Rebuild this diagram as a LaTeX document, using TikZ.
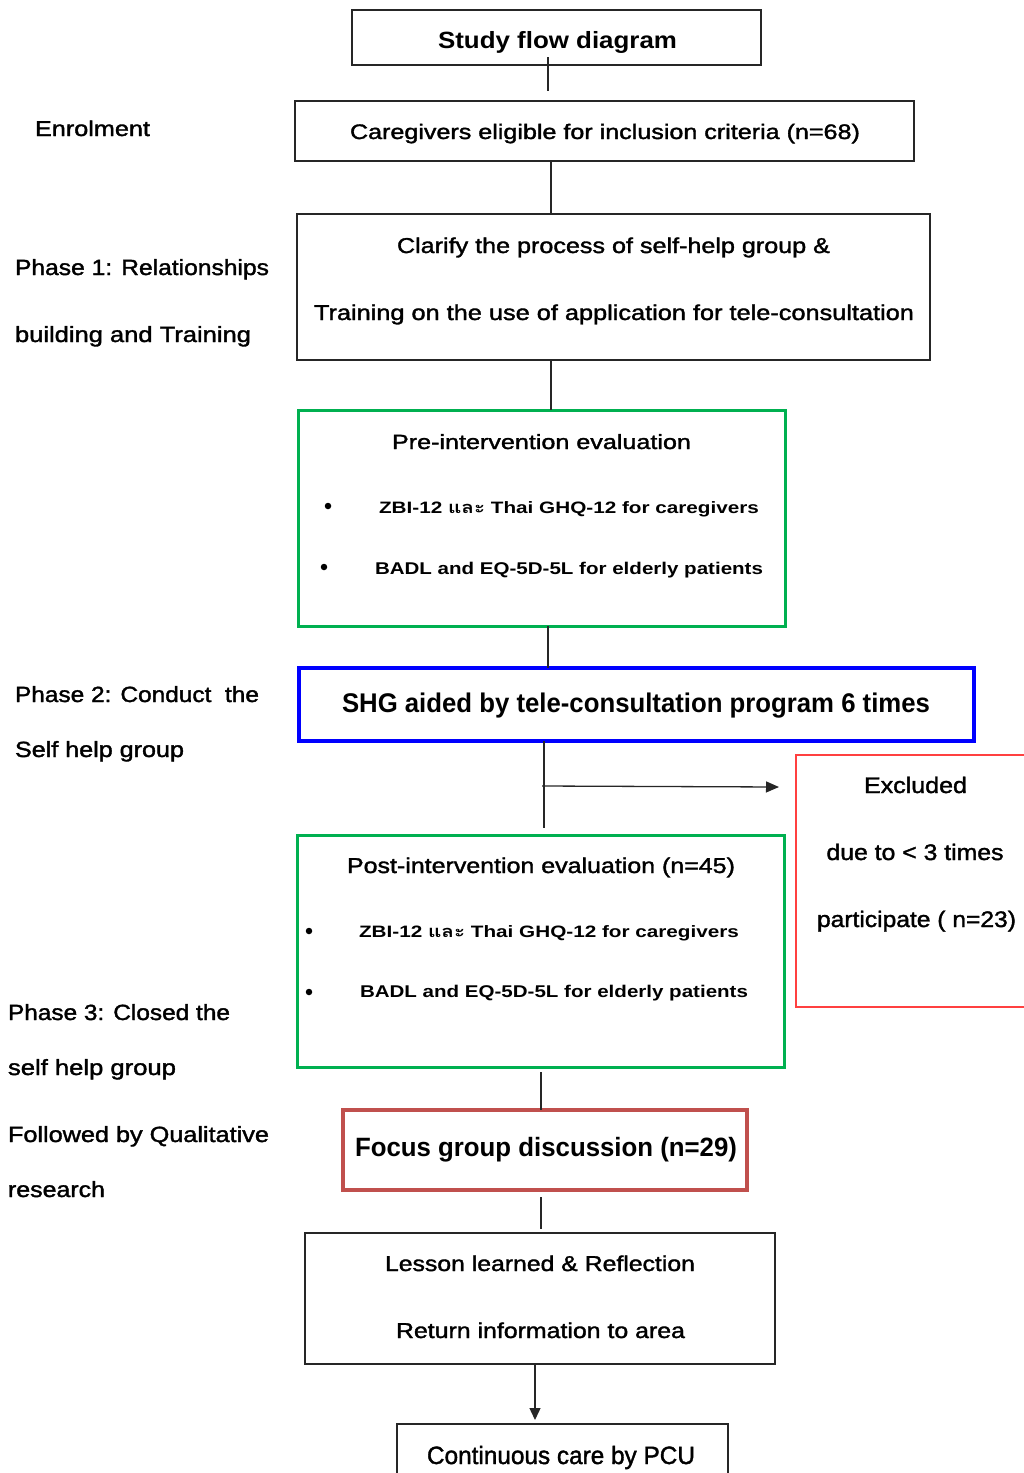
\documentclass[tikz,border=0pt]{standalone}
\usepackage{fontspec}
\setmainfont{Liberation Sans}
\newfontfamily\medfont{Liberation Sans}[FakeBold=1.5]
\newfontfamily\thaifont[Script=Thai]{Loma}
\usetikzlibrary{arrows.meta}
\newsavebox\fitbox
\newcommand\fitto[2]{\sbox\fitbox{#2}\pgfmathsetmacro\fitfac{#1/\the\wd\fitbox}\scalebox{\fitfac}[1]{\usebox\fitbox}}
\newcommand\fs[1]{\fontsize{#1}{#1}\selectfont}
\newcommand\fm[1]{\medfont\fontsize{#1}{#1}\selectfont}
\definecolor{gbox}{HTML}{00B050}
\definecolor{bbox}{HTML}{0000FF}
\definecolor{rbox}{HTML}{FF4040}
\definecolor{fbox}{HTML}{C0504D}
\tikzset{
  box/.style={draw=black!85, line width=1.3pt, inner sep=0pt, outer sep=0pt},
  lbl/.style={anchor=base, inner sep=0pt, outer sep=0pt},
  conn/.style={draw=black!85, line width=1.3pt},
  dot/.style={circle, fill=black, inner sep=0pt, minimum size=6.5pt}
}
\begin{document}
\begin{tikzpicture}[x=1pt, y=-1pt]
\useasboundingbox (0,0) rectangle (1024,1473);
\clip (0,0) rectangle (1024,1473);
% boxes
\node[box, minimum width=409pt, minimum height=55pt] (b0) at (556.5,37.5) {};
\node[box, minimum width=619pt, minimum height=60pt] (b1) at (604.5,131) {};
\node[box, minimum width=633pt, minimum height=146pt] (b2) at (613.5,287) {};
\node[box, draw=gbox, line width=3pt, minimum width=487pt, minimum height=216pt] (b3) at (541.5,518) {};
\node[box, draw=bbox, line width=4pt, minimum width=675pt, minimum height=73pt] (b4) at (636.5,704.5) {};
\node[box, draw=rbox, line width=1.5pt, minimum width=238pt, minimum height=252pt] (b5) at (915,881) {};
\node[box, draw=gbox, line width=3pt, minimum width=487pt, minimum height=232pt] (b6) at (540.5,951) {};
\node[box, draw=fbox, line width=4pt, minimum width=404pt, minimum height=80pt] (b7) at (545,1150) {};
\node[box, minimum width=470pt, minimum height=131pt] (b8) at (540,1298.5) {};
\node[box, minimum width=331pt, minimum height=66pt] (b9) at (562.5,1457) {};
% box texts
\node[lbl] (t0) at (557.5,48) {\fs{23.5}\bfseries\fitto{239}{Study flow diagram}};
\node[lbl] (t1) at (605,139) {\fm{21}\fitto{510}{Caregivers eligible for inclusion criteria (n=68)}};
\node[lbl] (t2a) at (613.5,253) {\fm{21.5}\fitto{433}{Clarify the process of self-help group \&}};
\node[lbl] (t2b) at (614,320) {\fm{21.5}\fitto{600}{Training on the use of application for tele-consultation}};
\node[lbl] (t3) at (541.5,449) {\fm{20.5}\fitto{299}{Pre-intervention evaluation}};
\node[dot] (d3a) at (328,506) {};
\node[lbl] (t3a) at (569,513) {\fs{16.5}\bfseries\fitto{380}{ZBI-12 {\thaifont และ} Thai GHQ-12 for caregivers}};
\node[dot] (d3b) at (324,567) {};
\node[lbl] (t3b) at (569,574) {\fs{17}\bfseries\fitto{388}{BADL and EQ-5D-5L for elderly patients}};
\node[lbl] (t4) at (636,712) {\fs{27}\bfseries\fitto{588}{SHG aided by tele-consultation program 6 times}};
\node[lbl] (t5a) at (915.5,793) {\fm{22.5}\fitto{103}{Excluded}};
\node[lbl] (t5b) at (915,860) {\fm{22.5}\fitto{177}{due to < 3 times}};
\node[lbl] (t5c) at (916.5,927) {\fm{22.5}\fitto{199}{participate ( n=23)}};
\node[lbl] (t6) at (541,873) {\fm{21.5}\fitto{388}{Post-intervention evaluation (n=45)}};
\node[dot] (d6a) at (309,931) {};
\node[lbl] (t6a) at (549,937) {\fs{16.5}\bfseries\fitto{380}{ZBI-12 {\thaifont และ} Thai GHQ-12 for caregivers}};
\node[dot] (d6b) at (309,992) {};
\node[lbl] (t6b) at (554,997) {\fs{17}\bfseries\fitto{388}{BADL and EQ-5D-5L for elderly patients}};
\node[lbl] (t7) at (546,1156) {\fs{26.5}\bfseries\fitto{382}{Focus group discussion (n=29)}};
\node[lbl] (t8a) at (540,1271) {\fm{21.5}\fitto{310}{Lesson learned \& Reflection}};
\node[lbl] (t8b) at (540.5,1338) {\fm{21.5}\fitto{289}{Return information to area}};
\node[lbl] (t9) at (561,1464) {\fm{25}\fitto{268}{Continuous care by PCU}};
% left labels
\node[lbl, anchor=base west] (l1) at (35,136) {\fm{21.5}\fitto{115}{Enrolment}};
\node[lbl, anchor=base west] (l2a) at (15,275) {\fm{22}\fitto{254}{Phase 1: Relationships}};
\node[lbl, anchor=base west] (l2b) at (15,342) {\fm{22}\fitto{236}{building and Training}};
\node[lbl, anchor=base west] (l3a) at (15,702) {\fm{22}\fitto{244}{Phase 2: Conduct~ the}};
\node[lbl, anchor=base west] (l3b) at (15,757) {\fm{22}\fitto{169}{Self help group}};
\node[lbl, anchor=base west] (l4a) at (8,1020) {\fm{22}\fitto{222}{Phase 3: Closed the}};
\node[lbl, anchor=base west] (l4b) at (8,1075) {\fm{22}\fitto{168}{self help group}};
\node[lbl, anchor=base west] (l4c) at (8,1142) {\fm{22}\fitto{261}{Followed by Qualitative}};
\node[lbl, anchor=base west] (l4d) at (8,1197) {\fm{22}\fitto{97}{research}};
% connector coordinates
\coordinate (c0a) at (548,57);  \coordinate (c0b) at (548,91);
\coordinate (x1) at (551,0);
\coordinate (x3) at (548,0);
\coordinate (x4) at (544,0);
\coordinate (c4b) at (544,828);
\coordinate (h0) at (542,786);
\coordinate (h1) at (779,787);
\coordinate (c6a) at (541,1072);
\coordinate (x7) at (541,0);
\coordinate (c7b) at (541,1197);
\coordinate (c8b) at (541,1229);
\coordinate (x8) at (535,0);
\coordinate (c9) at (535,1420);
% connectors
\draw[conn] (c0a) -- (c0b);
\draw[conn] (x1 |- b1.south) -- (x1 |- b2.north);
\draw[conn] (x1 |- b2.south) -- (x1 |- b3.north);
\draw[conn] (x3 |- b3.south) -- (x3 |- b4.north);
\draw[conn] (x4 |- b4.south) -- (c4b);
\draw[conn, -{Triangle[length=13pt,width=11pt]}] (h0) -- (h1);
\draw[conn] (c6a) -- (x7 |- b7.north);
\draw[conn] (c7b) -- (c8b);
\draw[conn, -{Triangle[length=12pt,width=11pt]}] (x8 |- b8.south) -- (c9);
\end{tikzpicture}
\end{document}
